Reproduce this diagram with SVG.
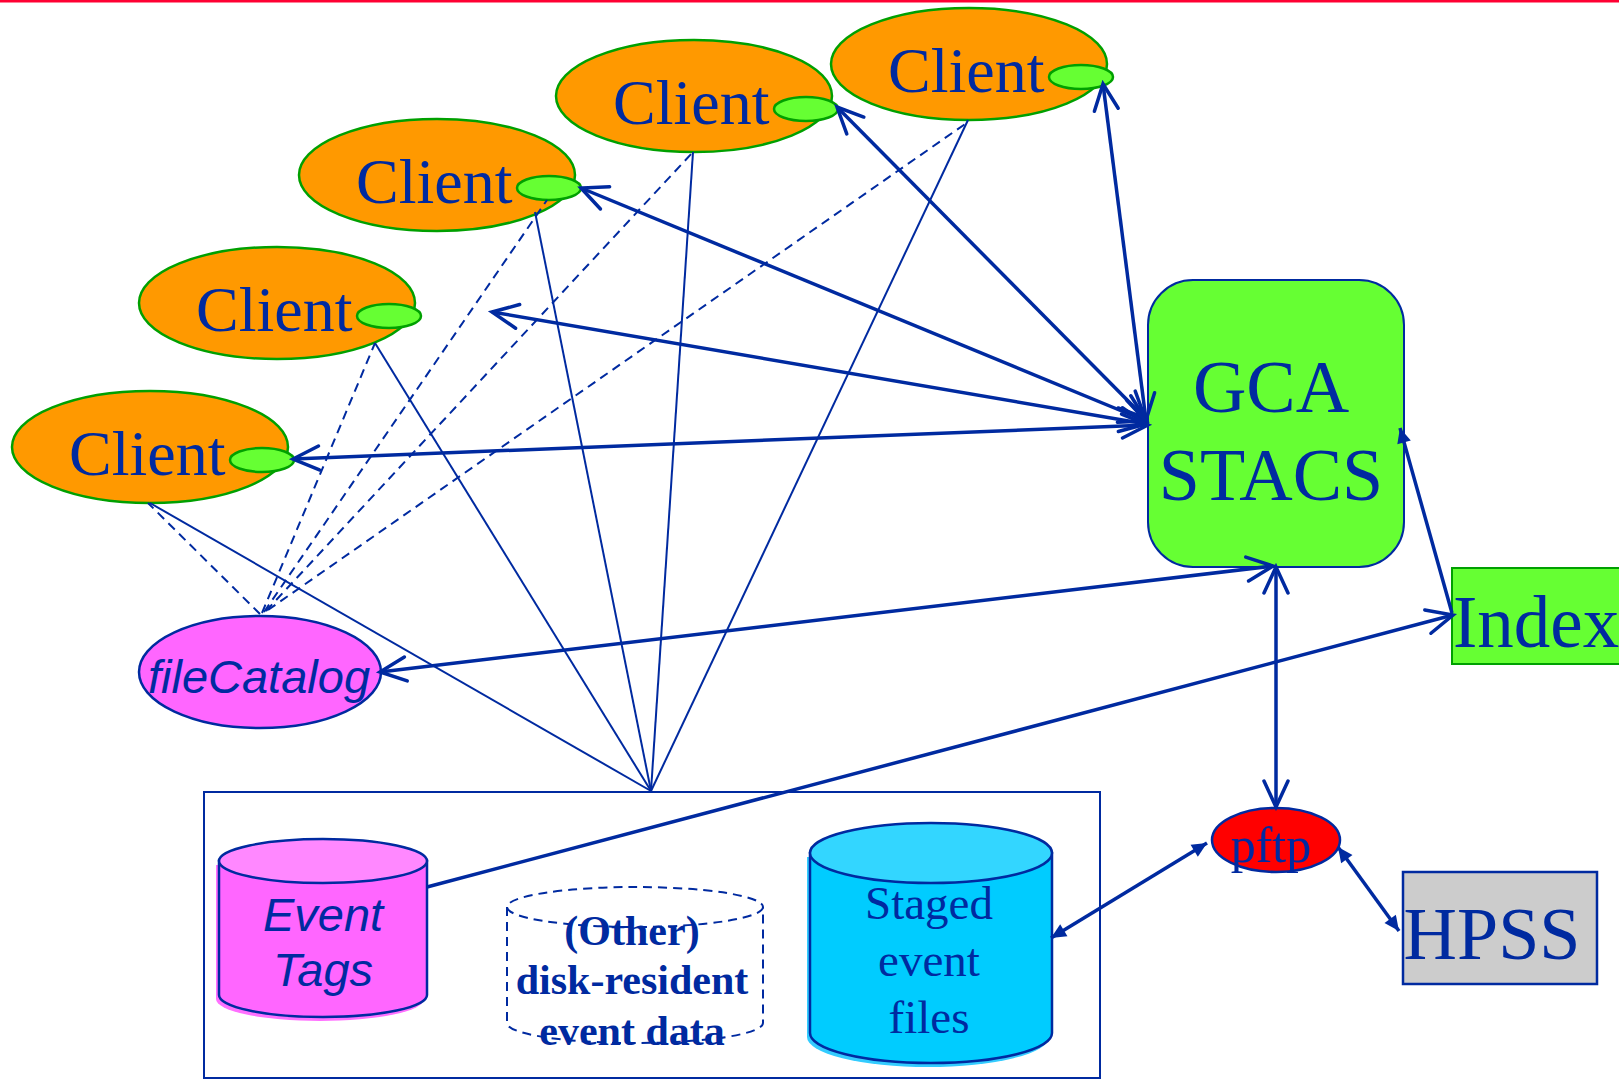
<svg xmlns="http://www.w3.org/2000/svg" width="1619" height="1079" viewBox="0 0 1619 1079">
<style>
.client{fill:#ff9900;stroke:#00a000;stroke-width:2.5}
.port{fill:#66ff33;stroke:#00a000;stroke-width:2.5}
.ct{font-family:"Liberation Serif","Times New Roman",serif;font-size:64px;fill:#002aa0}
.ser{font-family:"Liberation Serif","Times New Roman",serif;fill:#002aa0}
.san{font-family:"Liberation Sans",Arial,sans-serif;font-style:italic;fill:#002aa0}
.thick{fill:none;stroke:#002aa0;stroke-width:3.5}
.thin{fill:none;stroke:#002aa0;stroke-width:2}
.dash{fill:none;stroke:#002aa0;stroke-width:2;stroke-dasharray:9 6}
</style>
<defs>
<marker id="v" markerUnits="userSpaceOnUse" markerWidth="40" markerHeight="40" viewBox="-35 -20 40 40" refX="0" refY="0" orient="auto-start-reverse"><path d="M-26,-12 L0,0 L-26,12" fill="none" stroke="#002aa0" stroke-width="3.5" stroke-linecap="round"/></marker>
<marker id="t" markerUnits="userSpaceOnUse" markerWidth="24" markerHeight="20" viewBox="-20 -10 24 20" refX="0" refY="0" orient="auto-start-reverse"><path d="M-15,-7 L0,0 L-15,7 Z" fill="#002aa0"/></marker>
</defs>
<rect x="0" y="0" width="1619" height="1079" fill="#ffffff"/>
<rect x="0" y="0" width="1619" height="2.5" fill="#ff0033"/>

<g id="clientA"><ellipse class="client" cx="969" cy="64" rx="138" ry="56"/><text class="ct" x="888" y="92">Client</text><ellipse class="port" cx="1081" cy="77" rx="32" ry="12"/></g>
<g id="clientB"><ellipse class="client" cx="694" cy="96" rx="138" ry="56"/><text class="ct" x="613" y="124">Client</text><ellipse class="port" cx="806" cy="109" rx="32" ry="12"/></g>
<g id="clientC"><ellipse class="client" cx="437" cy="175" rx="138" ry="56"/><text class="ct" x="356" y="203">Client</text><ellipse class="port" cx="549" cy="188" rx="32" ry="12"/></g>
<g id="clientD"><ellipse class="client" cx="277" cy="303" rx="138" ry="56"/><text class="ct" x="196" y="331">Client</text><ellipse class="port" cx="389" cy="316" rx="32" ry="12"/></g>
<g id="clientE"><ellipse class="client" cx="150" cy="447" rx="138" ry="56"/><text class="ct" x="69" y="475">Client</text><ellipse class="port" cx="262" cy="460" rx="32" ry="12"/></g>

<g id="gca"><rect x="1148" y="280" width="256" height="287" rx="45" ry="45" fill="#66ff33" stroke="#002aa0" stroke-width="2"/>
<text class="ser" x="1271" y="412" font-size="74" text-anchor="middle">GCA</text>
<text class="ser" x="1271" y="500" font-size="74" text-anchor="middle">STACS</text></g>

<g id="index"><rect x="1452" y="568" width="180" height="96" fill="#66ff33" stroke="#00a000" stroke-width="2"/>
<text class="ser" x="1453" y="647" font-size="73">Index</text></g>

<g id="fileCatalog"><ellipse cx="260" cy="672" rx="121" ry="56" fill="#ff66ff" stroke="#002aa0" stroke-width="2.5"/>
<text class="san" x="259" y="693" font-size="47" text-anchor="middle">fileCatalog</text></g>

<g id="storage"><rect x="204" y="792" width="896" height="286" fill="none" stroke="#002aa0" stroke-width="2"/></g>

<g id="eventTags">
<path d="M219,861 L219,995 A104,22 0 0 0 427,995 L427,861 Z" transform="translate(-3,4)" fill="#ff70ff"/>
<path d="M219,861 L219,995 A104,22 0 0 0 427,995 L427,861 Z" fill="#ff66ff" stroke="#002aa0" stroke-width="2.5"/>
<ellipse cx="323" cy="861" rx="104" ry="22" fill="#ff88ff" stroke="#002aa0" stroke-width="2.5"/>
<text class="san" x="323" y="931" font-size="47" text-anchor="middle">Event</text>
<text class="san" x="323" y="986" font-size="47" text-anchor="middle">Tags</text></g>

<g id="otherData">
<ellipse cx="635" cy="907" rx="128" ry="20" class="dash"/>
<path d="M507,907 L507,1023 A128,20 0 0 0 763,1023 L763,907" class="dash"/>
<text class="ser" x="632" y="945" font-size="42" font-weight="bold" text-anchor="middle">(Other)</text>
<text class="ser" x="632" y="994" font-size="42" font-weight="bold" text-anchor="middle">disk-resident</text>
<text class="ser" x="632" y="1045" font-size="42" font-weight="bold" text-anchor="middle">event data</text></g>

<g id="staged">
<path d="M810,853 L810,1033 A121,30 0 0 0 1052,1033 L1052,853 Z" transform="translate(-3,4)" fill="#33ccff"/>
<path d="M810,853 L810,1033 A121,30 0 0 0 1052,1033 L1052,853 Z" fill="#00ccff" stroke="#002aa0" stroke-width="2.5"/>
<ellipse cx="931" cy="853" rx="121" ry="30" fill="#33d6ff" stroke="#002aa0" stroke-width="2.5"/>
<text class="ser" x="929" y="919" font-size="47" text-anchor="middle">Staged</text>
<text class="ser" x="929" y="976" font-size="47" text-anchor="middle">event</text>
<text class="ser" x="929" y="1033" font-size="47" text-anchor="middle">files</text></g>

<g id="pftp"><ellipse cx="1276" cy="840" rx="64" ry="32" fill="#ff0000" stroke="#002aa0" stroke-width="2.5"/>
<text class="ser" x="1271" y="862" font-size="50" text-anchor="middle">pftp</text></g>

<g id="hpss"><rect x="1403" y="872" width="194" height="112" fill="#cccccc" stroke="#002aa0" stroke-width="2.5"/>
<text class="ser" x="1492" y="959" font-size="74" text-anchor="middle">HPSS</text></g>

<g id="connectors">
<line class="thin" x1="651" y1="791" x2="150" y2="503"/>
<line class="thin" x1="651" y1="791" x2="375" y2="343"/>
<line class="thin" x1="651" y1="791" x2="535" y2="212"/>
<line class="thin" x1="651" y1="791" x2="693" y2="152"/>
<line class="thin" x1="651" y1="791" x2="968" y2="120"/>
<line class="dash" x1="260" y1="614" x2="148" y2="503"/>
<line class="dash" x1="262" y1="613" x2="375" y2="343"/>
<line class="dash" x1="264" y1="612" x2="547" y2="200"/>
<line class="dash" x1="266" y1="611" x2="693" y2="152"/>
<line class="dash" x1="268" y1="610" x2="968" y2="122"/>
<line class="thick" x1="1146" y1="420" x2="1103" y2="84" marker-start="url(#v)" marker-end="url(#v)"/>
<line class="thick" x1="1145" y1="418" x2="837" y2="107" marker-start="url(#v)" marker-end="url(#v)"/>
<line class="thick" x1="1146" y1="421" x2="581" y2="188" marker-start="url(#v)" marker-end="url(#v)"/>
<line class="thick" x1="1146" y1="424" x2="492" y2="312" marker-start="url(#v)" marker-end="url(#v)"/>
<line class="thick" x1="1148" y1="425" x2="293" y2="459" marker-start="url(#v)" marker-end="url(#v)"/>
<line class="thick" x1="1273" y1="566" x2="380" y2="672" marker-start="url(#v)" marker-end="url(#v)"/>
<line class="thick" x1="1276" y1="567" x2="1276" y2="807" marker-start="url(#v)" marker-end="url(#v)"/>
<line class="thick" x1="427" y1="887" x2="1453" y2="615" marker-end="url(#v)"/>
<line class="thick" x1="1452" y1="613" x2="1400" y2="428" marker-end="url(#t)"/>
<line class="thick" x1="1051" y1="938" x2="1207" y2="843" marker-start="url(#t)" marker-end="url(#t)"/>
<line class="thick" x1="1338" y1="847" x2="1399" y2="931" marker-start="url(#t)" marker-end="url(#t)"/>
</g>
</svg>
